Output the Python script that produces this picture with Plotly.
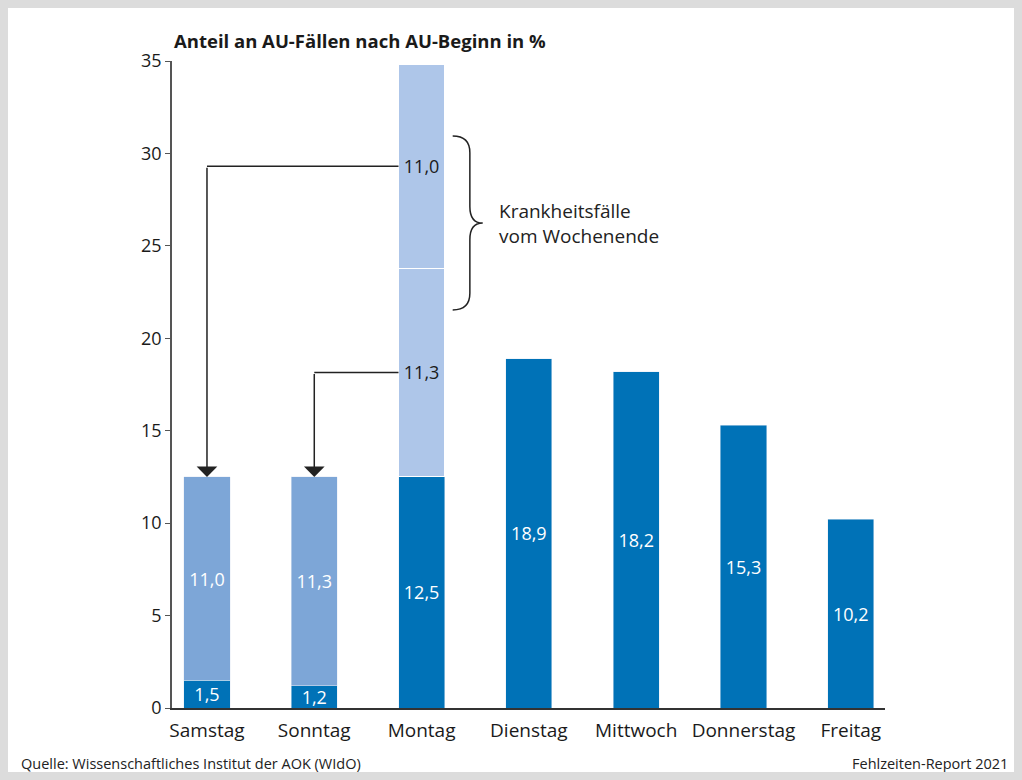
import plotly.graph_objects as go

# Anteil an AU-Fällen nach Wochentag des AU-Beginns (Fehlzeiten-Report 2021)
tage = ["Samstag", "Sonntag", "Montag", "Dienstag", "Mittwoch", "Donnerstag", "Freitag"]
au_beginn = [1.5, 1.2, 12.5, 18.9, 18.2, 15.3, 10.2]       # tatsächlicher Beginn
wochenende = [11.0, 11.3, None, None, None, None, None]     # am Wochenende erkrankt
montag_sonntag = [None, None, 11.3, None, None, None, None]  # Sonntag-Fälle, am Montag gemeldet
montag_samstag = [None, None, 11.0, None, None, None, None]  # Samstag-Fälle, am Montag gemeldet

dunkel = "#0072b7"
mittel = "#7da6d7"
hell = "#aec6e9"
schrift = "Open Sans"


def fmt(v):
    return None if v is None else f"{v:.1f}".replace(".", ",")


fig = go.Figure()
fig.add_trace(go.Bar(x=tage, y=au_beginn, marker_color=dunkel, width=0.43,
                     text=[fmt(v) for v in au_beginn], textposition="inside",
                     insidetextanchor="middle", textfont=dict(color="white", size=18)))
fig.add_trace(go.Bar(x=tage, y=wochenende, marker_color=mittel, width=0.43,
                     text=[fmt(v) for v in wochenende], textposition="inside",
                     insidetextanchor="middle", textfont=dict(color="white", size=18)))
fig.add_trace(go.Bar(x=tage, y=montag_sonntag, marker=dict(color=hell, line=dict(color="white", width=1)),
                     width=0.43, text=[fmt(v) for v in montag_sonntag], textposition="inside",
                     insidetextanchor="middle", textfont=dict(color="#1a1a1a", size=18)))
fig.add_trace(go.Bar(x=tage, y=montag_samstag, marker=dict(color=hell, line=dict(color="white", width=1)),
                     width=0.43, text=[fmt(v) for v in montag_samstag], textposition="inside",
                     insidetextanchor="middle", textfont=dict(color="#1a1a1a", size=18)))

# Pfeile von den Montags-Anteilen zurück zu Samstag / Sonntag
mo_links = 2 - 0.215
y_so = au_beginn[2] + montag_sonntag[2] / 2
y_sa = au_beginn[2] + montag_sonntag[2] + montag_samstag[2] / 2
for ziel, y_lab, top in [(0, y_sa, au_beginn[0] + wochenende[0]), (1, y_so, au_beginn[1] + wochenende[1])]:
    fig.add_shape(type="line", x0=mo_links, x1=ziel, y0=y_lab, y1=y_lab,
                  line=dict(color="#222", width=1.5))
    fig.add_annotation(x=ziel, y=top, ax=ziel, ay=y_lab, axref="x", ayref="y", xref="x", yref="y",
                       text="", showarrow=True, arrowhead=1, arrowsize=2.3, arrowwidth=1.5,
                       arrowcolor="#222")

# geschweifte Klammer
x0, x1, x2 = 2.29, 2.45, 2.57
yt, ym, yb, r = 30.94, 26.23, 21.53, 0.9
brace = (f"M {x0},{yt} Q {x1},{yt} {x1},{yt - r} L {x1},{ym + r} Q {x1},{ym} {x2},{ym} "
         f"Q {x1},{ym} {x1},{ym - r} L {x1},{yb + r} Q {x1},{yb} {x0},{yb}")
fig.add_shape(type="path", path=brace, xref="x", yref="y", line=dict(color="#222", width=1.5))
fig.add_annotation(x=2.70, y=ym, xref="x", yref="y", xanchor="left", yanchor="middle", align="left",
                   text="Krankheitsfälle<br>vom Wochenende", showarrow=False,
                   font=dict(size=19, color="#222"))

# Titel und Fußzeile (Seitenkoordinaten -> paper)
fig.add_annotation(x=0, y=1.032, xref="paper", yref="paper", xanchor="left", yanchor="middle",
                   text="<b>Anteil an AU-Fällen nach AU-Beginn in %</b>", showarrow=False,
                   font=dict(size=18.5, color="#1a1a1a"))
fig.add_annotation(x=(19 - 172) / 713, y=(708 - 763) / 647, xref="paper", yref="paper",
                   xanchor="left", yanchor="middle", text="Quelle: Wissenschaftliches Institut der AOK (WIdO)",
                   showarrow=False, font=dict(size=14.5, color="#222"))
fig.add_annotation(x=(1010 - 172) / 713, y=(708 - 763) / 647, xref="paper", yref="paper",
                   xanchor="right", yanchor="middle", text="Fehlzeiten-Report 2021",
                   showarrow=False, font=dict(size=14.5, color="#222"))

fig.update_layout(
    barmode="stack",
    width=1006, height=764,
    margin=dict(l=164, r=129, t=53, b=64),
    paper_bgcolor="white", plot_bgcolor="white",
    showlegend=False,
    font=dict(family=schrift, size=18, color="#1a1a1a"),
    uniformtext=dict(minsize=18, mode="show"),
    xaxis=dict(range=[-0.326, 6.319], showgrid=False, showline=True, linecolor="#333", linewidth=1.5,
               ticks="", tickfont=dict(size=19), ticklabelstandoff=4, fixedrange=True),
    yaxis=dict(range=[0, 35], dtick=5, showgrid=False, zeroline=False, showline=True,
               linecolor="#555", linewidth=1.5, ticks="outside", ticklen=5, tickcolor="#555",
               tickfont=dict(size=18), fixedrange=True),
)

# grauer Rahmen = Seitenrand um die Grafik
fig.write_html("out.html", post_script="document.body.style.background='#dcdcdc';")
